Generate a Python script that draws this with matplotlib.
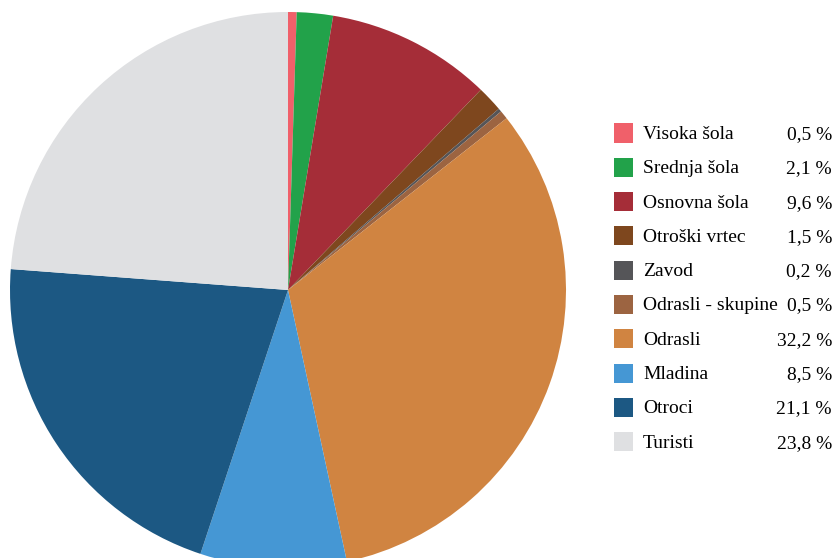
import matplotlib
matplotlib.use("Agg")
import matplotlib.pyplot as plt
from matplotlib.patches import Rectangle

labels = ["Visoka šola", "Srednja šola", "Osnovna šola", "Otroški vrtec", "Zavod",
          "Odrasli - skupine", "Odrasli", "Mladina", "Otroci", "Turisti"]
values = [0.5, 2.1, 9.6, 1.5, 0.2, 0.5, 32.2, 8.5, 21.1, 23.8]
colors = ["#F0606A", "#22A24A", "#A52D38", "#7E471E", "#555558",
          "#9C6441", "#D08441", "#4597D4", "#1C5883", "#DFE0E2"]

W, H = 835, 558
fig = plt.figure(figsize=(W / 100, H / 100), dpi=100)
ax = fig.add_axes([0, 0, 1, 1])
cx, cy, R = 288, 290, 278
ax.pie(values, colors=colors, startangle=90, counterclock=False, radius=1,
       wedgeprops=dict(linewidth=0))
ax.set_aspect("auto")
ax.set_xlim(-cx / R, (W - cx) / R)
ax.set_ylim((cy - H) / R, cy / R)
ax.axis("off")

font = dict(family="Liberation Serif", fontsize=14, color="#000000")
y0, dy = 133, 34.3
for i, (lab, v, c) in enumerate(zip(labels, values, colors)):
    y = y0 + i * dy
    fig.patches.append(Rectangle((614 / W, 1 - (y + 9.5) / H), 19 / W, 19 / H,
                                 transform=fig.transFigure, facecolor=c,
                                 edgecolor="none"))
    fig.text(643 / W, 1 - (y + 1.5) / H, lab, va="center", ha="left", **font)
    fig.text(832 / W, 1 - (y + 1.5) / H, f"{v:.1f}".replace(".", ",") + " %",
             va="center", ha="right", **font)

fig.savefig("out.png", dpi=100)
